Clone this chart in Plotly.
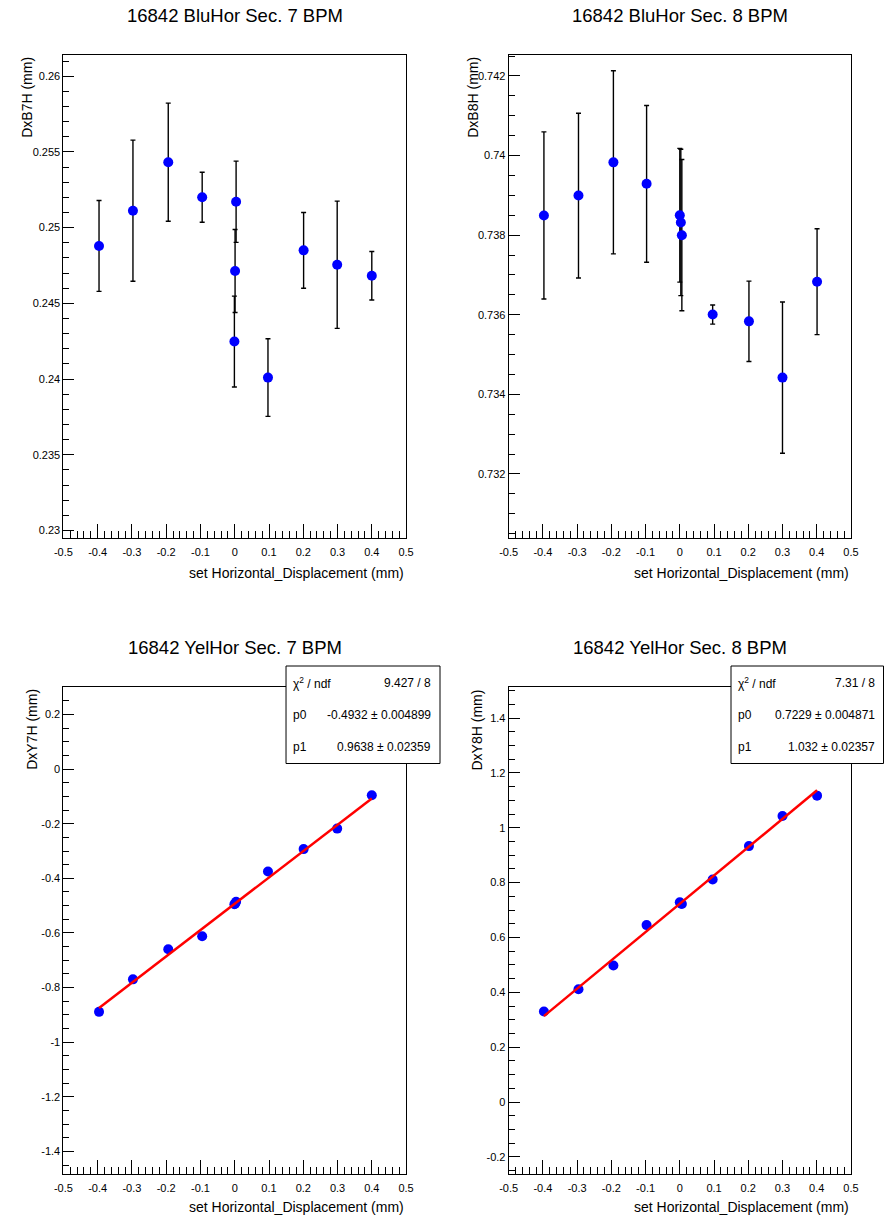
import plotly.graph_objects as go

# the page body has an 8px margin, so the figure is drawn 8px in and sized to fit
OFF = 8
W, H = 892 - OFF, 1220 - OFF

X_TICKS = [-0.5, -0.4, -0.3, -0.2, -0.1, 0, 0.1, 0.2, 0.3, 0.4, 0.5]
X_TICK_TEXT = ["-0.5", "-0.4", "-0.3", "-0.2", "-0.1", "0", "0.1", "0.2", "0.3", "0.4", "0.5"]

# set horizontal displacement (mm); the zero setting was taken three times
X_SEC7 = [-0.396, -0.297, -0.194, -0.095, -0.001, 0.001, 0.004, 0.097, 0.201, 0.299, 0.400]
X_SEC8 = [-0.397, -0.296, -0.194, -0.097, 0.000, 0.003, 0.006, 0.096, 0.202, 0.300, 0.401]

BLU7 = [0.24879, 0.25112, 0.25432, 0.25201, 0.24248, 0.24714, 0.25171, 0.24010, 0.24850, 0.24755, 0.24682]
BLU7_ERR = [0.0030, 0.00466, 0.0039, 0.00165, 0.0030, 0.00274, 0.00268, 0.00256, 0.0025, 0.0042, 0.0016]

BLU8 = [0.738496, 0.738995, 0.73983, 0.73929, 0.73850, 0.73832, 0.73800, 0.736005, 0.735834, 0.734421, 0.73683]
BLU8_ERR = [0.0021, 0.00207, 0.0023, 0.00197, 0.00168, 0.00184, 0.0019, 0.00024, 0.00101, 0.0019, 0.00133]

YEL7 = [-0.889, -0.770, -0.660, -0.612, -0.495, -0.493, -0.486, -0.375, -0.293, -0.218, -0.096]
YEL8 = [0.330, 0.411, 0.498, 0.645, 0.728, 0.724, 0.722, 0.811, 0.933, 1.043, 1.117]

# pol1 fits
YEL7_P0, YEL7_P1 = -0.4932, 0.9638
YEL7_STATS = [("χ<sup>2</sup> / ndf", "9.427 / 8"),
              ("p0", "-0.4932 ± 0.004899"),
              ("p1", "0.9638 ± 0.02359")]
YEL8_P0, YEL8_P1 = 0.7229, 1.032
YEL8_STATS = [("χ<sup>2</sup> / ndf", "7.31 / 8"),
              ("p0", "0.7229 ± 0.004871"),
              ("p1", "1.032 ± 0.02357")]

BLU7_YTICKS = [0.23, 0.235, 0.24, 0.245, 0.25, 0.255, 0.26]
BLU7_YTEXT = ["0.23", "0.235", "0.24", "0.245", "0.25", "0.255", "0.26"]
BLU8_YTICKS = [0.732, 0.734, 0.736, 0.738, 0.74, 0.742]
BLU8_YTEXT = ["0.732", "0.734", "0.736", "0.738", "0.74", "0.742"]
YEL7_YTICKS = [-1.4, -1.2, -1.0, -0.8, -0.6, -0.4, -0.2, 0, 0.2]
YEL7_YTEXT = ["-1.4", "-1.2", "-1", "-0.8", "-0.6", "-0.4", "-0.2", "0", "0.2"]
YEL8_YTICKS = [-0.2, 0, 0.2, 0.4, 0.6, 0.8, 1.0, 1.2, 1.4]
YEL8_YTEXT = ["-0.2", "0", "0.2", "0.4", "0.6", "0.8", "1", "1.2", "1.4"]

FONT = "Liberation Sans, Arial, sans-serif"
XT = "set Horizontal_Displacement (mm)"


def px(x):
    return (x - OFF) / W


def py(y):
    return 1 - (y - OFF) / H


TOP = (54.5, 538.0)
BOT = (687.3, 1173.8)
LEFT = (55.3, 404.7)
RIGHT = (509.3, 858.3)

panels = [
    dict(x=X_SEC7, y=BLU7, err=BLU7_ERR, yrange=[0.22951, 0.26143], yticks=BLU7_YTICKS,
         ytext=BLU7_YTEXT, yminor=0.001, frame=LEFT + TOP,
         title="16842 BluHor Sec. 7 BPM", ytitle="DxB7H (mm)", ytitle_x=18, ty=15, xty=573),
    dict(x=X_SEC8, y=BLU8, err=BLU8_ERR, yrange=[0.73039, 0.74254], yticks=BLU8_YTICKS,
         ytext=BLU8_YTEXT, yminor=0.0005, frame=RIGHT + TOP,
         title="16842 BluHor Sec. 8 BPM", ytitle="DxB8H (mm)", ytitle_x=472.7, ty=15, xty=573),
    dict(x=X_SEC7, y=YEL7, err=None, yrange=[-1.482, 0.2995], yticks=YEL7_YTICKS,
         ytext=YEL7_YTEXT, yminor=0.05, frame=LEFT + BOT,
         title="16842 YelHor Sec. 7 BPM", ytitle="DxY7H (mm)", ytitle_x=23.3, ty=647, xty=1207,
         fit=(YEL7_P0, YEL7_P1), stats=YEL7_STATS, box=(282.3, 439.3)),
    dict(x=X_SEC8, y=YEL8, err=None, yrange=[-0.2617, 1.512], yticks=YEL8_YTICKS,
         ytext=YEL8_YTEXT, yminor=0.05, frame=RIGHT + BOT,
         title="16842 YelHor Sec. 8 BPM", ytitle="DxY8H (mm)", ytitle_x=476.7, ty=647, xty=1207,
         fit=(YEL8_P0, YEL8_P1), stats=YEL8_STATS, box=(736.0, 891.5)),
]

fig = go.Figure()
annotations = []
shapes = []
for i, p in enumerate(panels, start=1):
    sfx = "" if i == 1 else str(i)
    x0, x1, y0, y1 = p["frame"]
    fig.add_trace(go.Scatter(
        x=p["x"], y=p["y"], mode="markers", xaxis="x" + sfx, yaxis="y" + sfx,
        marker=dict(color="#0000ff", size=10),
        error_y=dict(type="data", array=p["err"] or [], visible=p["err"] is not None,
                     color="black", thickness=1.4, width=2.5),
        showlegend=False,
    ))
    if p.get("fit"):
        p0, p1 = p["fit"]
        xs = [min(p["x"]), max(p["x"])]
        fig.add_trace(go.Scatter(
            x=xs, y=[p0 + p1 * v for v in xs], mode="lines",
            xaxis="x" + sfx, yaxis="y" + sfx,
            line=dict(color="#ff0000", width=2.5), showlegend=False,
        ))
    common = dict(showline=True, mirror=True, linecolor="black", linewidth=1,
                  ticks="inside", tickcolor="black", tickwidth=1,
                  showgrid=False, zeroline=False,
                  tickfont=dict(family=FONT, size=11, color="black"))
    fig.update_layout({
        "xaxis" + sfx: dict(
            domain=[px(x0), px(x1)], anchor="y" + sfx, range=[-0.5, 0.5],
            tickmode="array", tickvals=X_TICKS, ticktext=X_TICK_TEXT,
            ticklen=14, ticklabelstandoff=4,
            minor=dict(ticks="inside", ticklen=7, tickmode="linear", tick0=-0.5,
                       dtick=0.02, tickcolor="black", showgrid=False),
            **common),
        "yaxis" + sfx: dict(
            domain=[py(y1), py(y0)], anchor="x" + sfx, range=p["yrange"],
            tickmode="array", tickvals=p["yticks"], ticktext=p["ytext"], ticklen=11,
            minor=dict(ticks="inside", ticklen=6, tickmode="linear", tick0=p["yticks"][0],
                       dtick=p["yminor"], tickcolor="black", showgrid=False),
            **common),
    })
    annotations.append(dict(text=p["title"], x=px((x0 + x1) / 2), y=py(p["ty"]),
                            xanchor="center", yanchor="middle",
                            font=dict(family=FONT, size=18.5, color="black")))
    annotations.append(dict(text=XT, x=px(x1), y=py(p["xty"]), xanchor="right",
                            yanchor="middle", font=dict(family=FONT, size=14, color="black")))
    annotations.append(dict(text=p["ytitle"], textangle=-90, x=px(p["ytitle_x"]),
                            y=py(y0), xanchor="center", yanchor="top",
                            font=dict(family=FONT, size=14, color="black")))
    if p.get("stats"):
        bx0, bx1 = p["box"]
        shapes.append(dict(type="rect", xref="paper", yref="paper", layer="above",
                           x0=px(bx0), x1=px(bx1), y0=py(763.5), y1=py(666.0),
                           line=dict(color="black", width=1), fillcolor="white"))
        for (lab, val), ry in zip(p["stats"], [682.5, 715.0, 747.3]):
            annotations.append(dict(text=lab, x=px(bx0 + 5), y=py(ry), xanchor="left",
                                    yanchor="middle",
                                    font=dict(family=FONT, size=12, color="black")))
            annotations.append(dict(text=val, x=px(bx1 - 7), y=py(ry), xanchor="right",
                                    yanchor="middle",
                                    font=dict(family=FONT, size=12, color="black")))

for a in annotations:
    a.update(xref="paper", yref="paper", showarrow=False)

fig.update_layout(
    width=W, height=H,
    margin=dict(l=0, r=0, t=0, b=0),
    paper_bgcolor="white", plot_bgcolor="white",
    annotations=annotations, shapes=shapes,
    font=dict(family=FONT, color="black"),
)

fig.write_html("out.html")
